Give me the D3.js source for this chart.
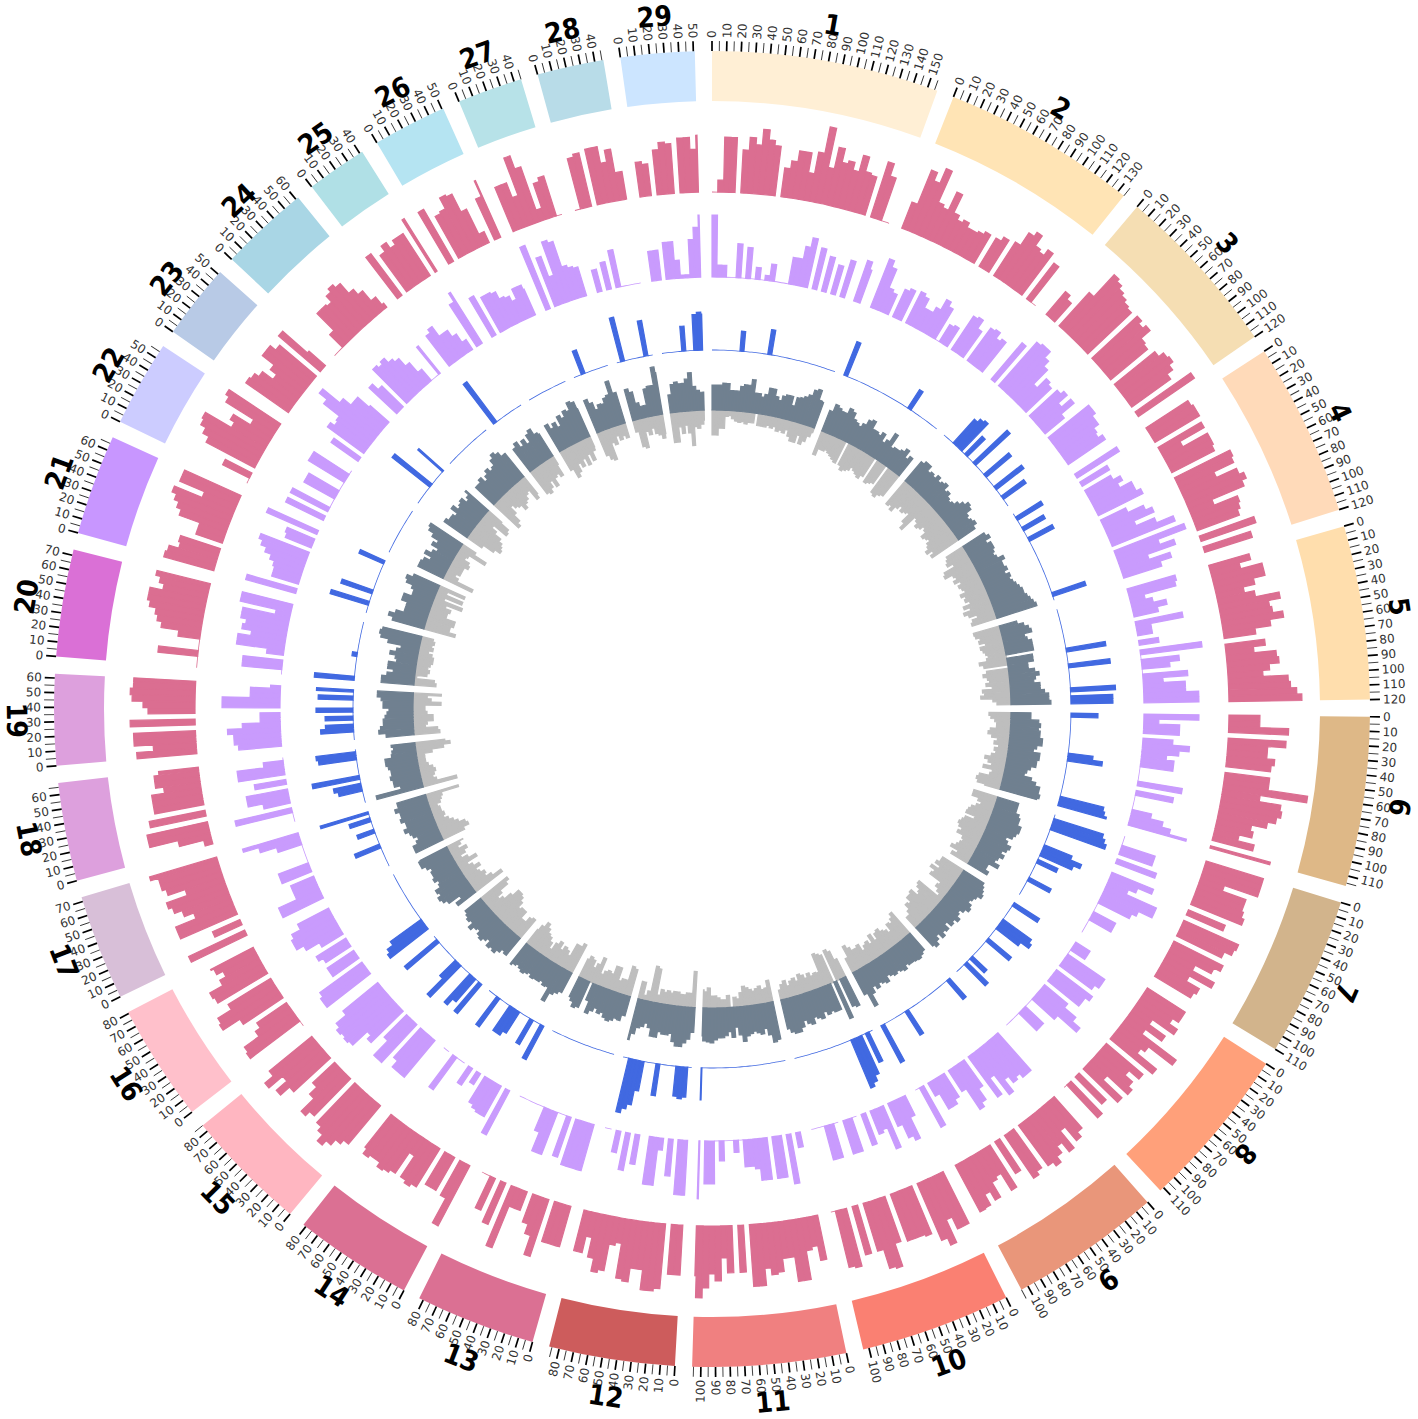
<!DOCTYPE html>
<html><head><meta charset="utf-8">
<script src="https://cdn.jsdelivr.net/npm/d3@7"></script>
<style>html,body{margin:0;padding:0;background:#fff}svg{display:block}</style>
</head><body><svg id="c" width="1418" height="1419"></svg>
<script>
const chromNames=["1","2","3","4","5","6","7","8","9","10","11","12","13","14","15","16","17","18","19","20","21","22","23","24","25","26","27","28","29"];
const chromLengths=[157,135,120,120,120,117,110,113,105,104,106,87,83,82,85,81,73,68,63,74,69.5,59.5,52,62,42,51,45,46,51];
const chromColors=["#FFEFD5","#FFE4B5","#F5DEB3","#FFDAB9","#FFDEAD","#DEB887","#D2B48C","#FFA07A","#E9967A","#FA8072","#F08080","#CD5C5C","#DB7093","#DB7093","#FFB6C1","#FFC0CB","#D8BFD8","#DDA0DD","#DDA0DD","#DA70D6","#C896FF","#CCCCFF","#B8CAE6","#A9D6E5","#B0E0E6","#B5E4F2","#B7E2E8","#B8DCE8","#CCE5FF"];
const pink=[
[0,12,55,55,,43,56,49,65,55,50,,29,37,48,48,28,50,77,37,59,45,48,40,57,42,40,,58,45,0,0],
[28,65,56,72,38,35,55,35,30,33,28,28,30,33,,33,38,,40,55,60,48,45,52,,45,0,0],
[30,25,,45,75,72,68,65,62,60,,62,58,62,50,48,,52,58,60,55,48,,68,0],
[50,52,52,,50,22,50,50,48,,62,60,38,60,65,60,25,50,48,45,,58,,50],
[42,30,52,52,40,28,38,62,50,52,62,48,32,,40,28,50,52,42,35,60,62,68,73],
[31,31,60,,58,40,40,48,45,,45,45,85,38,60,62,58,50,35,38,25,42,,62],
[60,60,60,25,50,50,52,55,,40,,60,58,50,,55,48,30,55,30,45,42],
[45,45,38,48,22,42,22,65,35,30,55,,48,35,45,50,22,48,,38,,45,0],
[42,48,30,52,40,48,55,50,,48,52,,38,,50,30,33,50,40,52,53],
[58,58,45,70,62,,52,50,50,50,,48,72,70,50,,50,,60,58,0],
[45,30,33,62,62,37,37,50,52,45,62,62,,47,,47,32,55,48,62,72,50],
[50,50,,65,68,68,48,48,62,60,25,28,55,58,45,25,42,42],
[42,42,42,,60,40,30,,20,20,65,,45,,35,0,0],
[68,40,,38,38,,45,48,45,20,45,48,50,45,45,48,42],
[50,55,62,68,60,55,,52,58,40,30,,50,62,48,66,55],
[0,62,60,42,36,,48,68,66,50,,58,60,45,38,45,48],
[62,,30,,62,62,40,50,58,62,40,58,62,62,70],
[8,33,62,62,,57,,50,50,50,37,45,45,40],
[60,43,62,62,,65,,47,52,63,65,62,62],
[0,0,40,0,0,22,40,45,48,55,58,58,45,50,55],
[52,50,40,42,,28,28,50,55,60,65,35,62,62],
[0,30,,55,62,68,70,40,45,25,58,62],
[52,50,45,32,40,55,55,48,,55,22],
[0,0,18,42,42,40,48,52,48,35,28,15,5],
[52,,45,52,45,50,50,,62],
[60,,48,50,62,60,40,12,,45,62],
[48,48,32,72,58,12,38,42,0],
[0,52,55,,57,57,40,52,28,28],
[35,32,,45,52,50,,55,55,43,57]];
const purple=[
[62,12,12,0,0,34,0,31,0,12,0,5,17,0,0,0,27,27,40,50,,42,,36,,30,,38,,,43,35],
[52,45,25,22,,30,33,,35,32,22,22,28,40,35,0,20,22,,40,42,32,,40,42,35,38,55],
[48,,58,60,60,52,45,25,38,35,,38,42,30,42,25,,52,52,48,48,42,40,45,35],
[50,,32,,30,38,32,45,45,50,,28,45,52,30,50,68,,75,45,60,30,52,40],
[50,48,15,22,35,25,,48,15,15,,20,,62,0,38,28,0,45,20,42,42,55,55],
[55,15,36,36,,30,47,37,25,33,33,0,0,0,45,,38,0,0,0,20,33,42,60],
[0,0,35,35,,42,,,45,30,22,55,55,40,35,0,0,25,25,0,0,0],
[17,17,0,45,45,40,,45,40,40,,30,45,55,30,0,0,25,25,0,0,0,0],
[50,50,45,48,40,55,30,50,,32,45,50,25,,28,33,33,15,,45,0],
[22,45,40,25,,45,22,25,,33,,0,35,35,,0,35,35,0,0,0],
[15,,50,,42,42,,42,42,30,27,27,0,12,0,0,20,0,43,43,,58],
[55,55,,37,,12,48,48,,,30,,38,,22,,0,0],
[48,48,48,48,,42,0,0,45,45,25,0,0,0,0,0,0],
[50,,35,35,33,30,,13,,20,,0,0,40,,0,0],
[48,48,48,40,,52,52,32,,45,40,60,62,60,62,58,45],
[55,55,52,,32,32,,30,35,,25,40,48,48,45,35,35],
[45,45,25,25,25,,32,32,0,0,0,0,25,42,58],
[0,0,58,,27,42,42,,32,,47,47,20,0],
[43,47,47,53,38,20,20,,58,58,30,30,10],
[0,40,40,,17,48,48,35,45,42,48,48,15,52,52],
[52,,28,28,30,35,42,48,52,,28,30,,55],
[42,,42,0,0,35,35,0,0,42,42,0],
[33,,45,40,42,62,72,50,40,40,25],
[38,30,,48,45,48,42,38,28,15,0,0,35],
[38,42,30,30,22,12,,50,60],
[45,,40,40,38,30,28,22,33,33,28],
[68,,52,30,65,62,35,32,30],
[23,,28,,38,0,0,0,0,0],
[30,30,,37,37,18,3,3,38,50,62]];
// [bin, value] pairs; all other bins of the chromosome are zero
const bluePeaks=[
[[7,20],[14,25]],
[[0,36],[18,22]],
[[3,32],[4,36],[5,38],[7,25],[10,47],[14,33],[18,35],[21,28]],
[[1,30],[4,25],[7,28],[22,35]],
[[10,40],[14,42],[20,45],[22,42],[23,42]],
[[0,27],[10,25],[11,35],[21,45],[22,47],[23,50]],
[[1,52],[2,55],[3,58],[8,30],[9,42],[10,35],[12,22],[17,25]],
[[0,30],[5,35],[6,38],[7,28],[11,30],[17,20],[19,30]],
[[0,25],[13,28],[20,42]],
[[1,32],[3,42],[4,48],[5,52]],
[[21,32]],
[[1,30],[2,32],[3,30],[8,32],[12,30],[13,45],[14,50],[15,55]],
[],
[[0,38],[3,28],[7,25],[8,30],[9,30],[13,35]],
[[0,38],[2,30],[3,38],[7,44],[8,22],[15,42]],
[[0,48],[1,45],[2,38]],
[[5,27],[9,18],[12,22],[14,50]],
[[3,24],[4,28],[6,48],[11,38],[12,40]],
[[2,33],[3,28],[5,28],[7,37],[10,35],[12,37]],
[[0,40],[6,5]],
[[2,40],[5,33],[13,27]],
[],
[[5,48],[10,33]],
[],
[[0,50]],
[],
[[2,25]],
[[1,45],[7,36]],
[[5,25],[8,36],[9,38],[10,36]]];
const slate=[
[25,25,25,27,27,20,20,20,25,27,27,33,20,20,17,20,27,27,20,17,22,24,24,15,24,25,27,30,36,38,28,27],
[22,30,28,26,26,32,30,24,22,20,24,30,32,24,24,22,26,18,22,32,18,20,20,22,26,18,22,28],
[25,28,28,22,24,22,26,22,24,26,20,22,18,16,18,22,26,30,28,22,20,22,24,20,22],
[25,28,22,26,26,24,22,24,30,26,26,28,24,28,26,28,30,32,34,34,36,38,40,42],
[18,24,28,30,22,24,28,28,28,,26,26,20,20,26,30,26,24,30,30,34,38,38,40],
[20,20,28,30,28,30,30,33,33,28,25,32,32,30,30,25,22,20,28,33,38,38,40,38],
[22,22,22,26,28,28,32,32,30,28,22,25,30,28,24,28,24,22,28,18,18,22],
[24,26,28,30,26,24,22,26,28,24,20,22,26,22,24,18,24,22,26,20,24,28,25],
[22,24,26,25,24,24,22,26,24,22,24,22,20,26,24,22,26,22,28,40,25],
[32,30,,40,,28,28,26,28,24,30,28,26,32,30,26,32,36,36,34,30],
[38,40,32,25,30,28,26,28,30,35,28,20,30,24,28,30,30,32,35,34,33,28],
[25,32,36,40,40,36,28,30,30,28,34,34,26,22,26,28,35,42],
[20,26,25,28,30,28,24,26,22,26,30,18,,28,30,25,22],
[22,25,28,38,24,25,22,24,24,25,22,24,26,24,22,24,26],
[22,20,24,28,26,28,22,25,28,26,22,24,28,22,24,22,20],
[22,15,28,32,34,30,32,26,24,28,26,26,24,28,32,32,30],
[30,30,25,22,26,28,32,28,28,32,30,30,34,30,30],
[48,22,28,28,30,28,28,30,32,32,25,24,22,24],
[28,35,33,30,30,28,26,24,30,30,32,36,36],
[33,33,28,22,28,28,20,22,28,22,18,32,40,42,40],
[33,38,32,24,24,24,30,30,22,22,25,32,34,28],
[28,28,26,20,28,22,18,26,22,30,36,38],
[28,25,25,22,30,24,26,28,22,25,30],
[25,25,28,22,26,30,26,28,34,38,35,30,30],
[28,32,25,30,24,32,35,28,26],
[30,24,28,22,32,28,34,32,40,38,30],
[35,30,22,26,25,30,32,45,32],
[32,28,16,12,12,28,30,30,48,42],
[18,28,30,28,28,32,38,24,20,18,18]];
const silver=[
[25,25,18,18,6,5,8,10,11,10,12,10,10,,12,12,12,10,12,10,14,12,14,10,16,20,20,12,20,16,10,5],
[25,18,18,16,18,20,22,24,,24,28,26,24,20,22,24,26,22,,26,24,22,,30,32,28,26,22],
[30,28,32,26,22,26,24,22,32,38,20,22,26,24,20,22,28,26,24,28,30,34,28,32,30],
[20,22,24,18,30,32,24,22,26,20,24,22,20,26,22,24,20,28,22,30,26,18,24,26],
[27,26,22,24,18,24,22,20,18,20,28,24,,22,26,22,20,24,18,28,26,30,18,14],
[22,20,16,14,14,20,22,18,12,15,10,14,12,16,22,18,14,22,12,14,24,26,24,16],
[25,25,18,14,18,22,24,25,15,24,26,28,26,22,25,18,16,18,20,24,15,20],
[25,25,28,22,30,24,26,12,14,10,6,30,28,24,22,30,28,28,22,24,18,14,14],
[28,24,20,22,14,18,20,24,22,16,24,16,20,18,14,22,20,20,24,28,16],
[20,30,33,,30,32,34,15,16,14,18,14,18,20,14,18,16,12,18,15,10],
[22,15,14,18,16,14,16,18,20,14,8,10,,12,8,8,10,12,12,20,16,18],
[36,14,14,12,12,14,14,12,14,12,14,8,34,36,10,5,18,18],
[28,30,15,15,12,25,25,16,18,16,12,28,20,15,22,24,20],
[32,28,28,14,18,20,15,22,18,10,16,20,22,26,30,24,18],
[24,22,16,16,24,24,22,28,32,34,34,26,18,14,20,30,34],
[34,24,18,20,16,14,20,14,10,22,14,8,14,18,10,14,18],
[24,30,28,22,18,14,10,12,10,10,8,12,14,16,34],
[35,15,12,14,16,14,10,8,8,8,16,28,35,30],
[26,24,12,14,20,20,14,12,12,28,18,14,28],
[22,20,2,12,14,12,14,16,16,14,10,14,12,14,12],
[32,25,25,28,28,18,18,20,14,30,10,28,10,28],
[32,14,10,14,14,14,18,16,10,12,30,16],
[18,30,36,34,32,28,20,14,30,28,18],
[34,30,22,14,18,20,26,22,20,16,14,26,22],
[28,30,26,20,28,20,18,22,10],
[22,32,28,20,25,18,26,16,24,15,12],
[25,30,32,15,18,10,15,12,15],
[12,28,30,14,18,12,18,20,24,20],
[30,30,15,22,14,22,35,16,18,14,10]];
const binSize=5, tickStep=5, gapDeg=1.5;

const cx=712, cy=709;
const svg=d3.select("#c");
const g=svg.append("g").attr("transform",`translate(${cx},${cy})`);
const total=d3.sum(chromLengths);
const degPerMb=(360-gapDeg*chromLengths.length)/total;
let cum=0;
const starts=chromLengths.map((l,i)=>{const s=cum+i*gapDeg/degPerMb;cum+=l;return s;});
const angle=d3.scaleLinear().domain([0,total+chromLengths.length*gapDeg/degPerMb]).range([0,2*Math.PI]);
const arc=d3.arc();
const ringR=[608,658];
const tracks=[
 {data:pink,color:"#DB6E91",r:d3.scaleLinear().domain([0,80]).range([517,597])},
 {data:purple,color:"#C99BFD",r:d3.scaleLinear().domain([0,80]).range([432,512])},
 {data:bluePeaks.map((p,i)=>{const a=new Array(Math.ceil(chromLengths[i]/binSize)).fill(0);p.forEach(([b,v])=>a[b]=v);return a;}),color:"#4169E1",r:d3.scaleLinear().domain([0,80]).range([359,439])},
 {data:silver,color:"#BEBEBE",r:d3.scaleLinear().domain([0,80]).range([299,219])},
 {data:slate,color:"#708090",r:d3.scaleLinear().domain([0,80]).range([299,379])}
];
chromLengths.forEach((l,i)=>{
 g.append("path").attr("fill",chromColors[i]).attr("d",arc({innerRadius:ringR[0],outerRadius:ringR[1],startAngle:angle(starts[i]),endAngle:angle(starts[i]+l)}));
 for(let t=0;t<=l;t+=tickStep){
  const a=angle(starts[i]+t), deg=a*180/Math.PI, major=t%10===0;
  g.append("line").attr("x1",0).attr("x2",0).attr("y1",-ringR[1]).attr("y2",-(ringR[1]+10))
   .attr("stroke",major?"#000":"#333").attr("stroke-width",major?1.7:0.9).attr("transform",`rotate(${deg})`);
  if(major){
   const flip=deg>180;
   g.append("text").attr("transform",`rotate(${deg}) translate(0,${-(ringR[1]+13)}) rotate(${flip?90:-90})`)
    .attr("text-anchor",flip?"end":"start").attr("dy","0.35em").attr("font-family","DejaVu Sans").attr("font-size",12).attr("fill","#333").text(t);
  }
 }
 const mid=angle(starts[i]+l/2), md=mid*180/Math.PI;
 const flipL=md>150&&md<270;
 g.append("text").attr("transform",`rotate(${md}) translate(0,${-695}) rotate(${flipL?180:0})`)
  .attr("text-anchor","middle").attr("dy","0.36em").attr("font-family","DejaVu Sans Condensed, DejaVu Sans").attr("font-weight","bold").attr("font-size",28).attr("fill","#000").text(chromNames[i]);
});
tracks.forEach(tr=>{
 let bars="", zeros="";
 tr.data.forEach((vals,i)=>{
  const l=chromLengths[i];
  for(let b=0;b<vals.length;b++){
   const v=vals[b]; if(v===undefined) continue;
   const s=b*binSize, e=Math.min((b+1)*binSize,l); if(s>=l) break;
   const r0=tr.r(0), r1=tr.r(v);
   if(v===0) zeros+=arc({innerRadius:r0-0.4,outerRadius:r0+0.4,startAngle:angle(starts[i]+s),endAngle:angle(starts[i]+e)});
   else bars+=arc({innerRadius:Math.min(r0,r1),outerRadius:Math.max(r0,r1),startAngle:angle(starts[i]+s),endAngle:angle(starts[i]+e)});
  }
 });
 g.append("path").attr("fill",tr.color).attr("d",zeros);
 g.append("path").attr("fill",tr.color).attr("stroke",tr.color).attr("stroke-width",1.2).attr("d",bars);
});
</script></body></html>
